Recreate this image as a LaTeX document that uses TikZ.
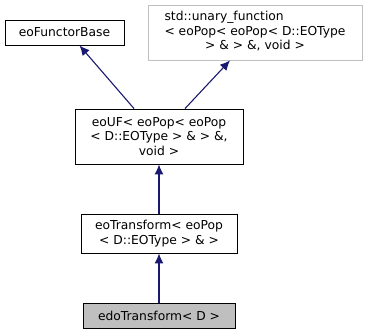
\documentclass[tikz,border=0pt]{standalone}
\usepackage{fontspec}
\setmainfont{DejaVu Sans}
\usepackage{tikz}
\usetikzlibrary{arrows.meta}
\definecolor{edgeblue}{HTML}{191970}
\definecolor{boxgray}{HTML}{BFBFBF}

\begin{document}
\begin{tikzpicture}[x=1pt,y=-1pt,
        every node/.style={draw,line width=0.9pt,inner sep=0pt,align=center,
            font=\fontsize{12.3}{14.5}\selectfont},
        inherit/.style={edgeblue,line width=1.1pt,-{Latex[length=10pt,width=9pt]}}]
        \useasboundingbox (0,0) rectangle (367,335);
        \node[minimum width=119pt,minimum height=25pt] (eoFunctorBase) at (64.5,32.5) {eoFunctorBase};
        \node[draw=boxgray,minimum width=214pt,minimum height=55pt] (unary_function) at (255,32.5)
            {\begin{tabular}{@{}l@{}}std::unary\_function\\< eoPop< eoPop< D::EOType\\
             \multicolumn{1}{@{}c@{}}{> \& > \&, void >}\end{tabular}};
        \node[minimum width=168pt,minimum height=55pt] (eoUF) at (159,136.5) {eoUF< eoPop< eoPop\\< D::EOType > \& > \&,\\void >};
        \node[minimum width=156pt,minimum height=39pt] (eoTransform) at (159,233.5) {eoTransform< eoPop\\< D::EOType > \& >};
        \node[fill=boxgray,minimum width=152pt,minimum height=25pt] (edoTransform) at (159,315.5) {edoTransform< D >};
        \draw[inherit] ([xshift=-25pt]eoUF.north) -- ([xshift=15pt]eoFunctorBase.south);
        \draw[inherit] ([xshift=26pt]eoUF.north) -- ([xshift=-25pt]unary_function.south);
        \draw[inherit] (eoTransform) -- (eoUF);
        \draw[inherit] (edoTransform) -- (eoTransform);
    \end{tikzpicture}
\end{document}
